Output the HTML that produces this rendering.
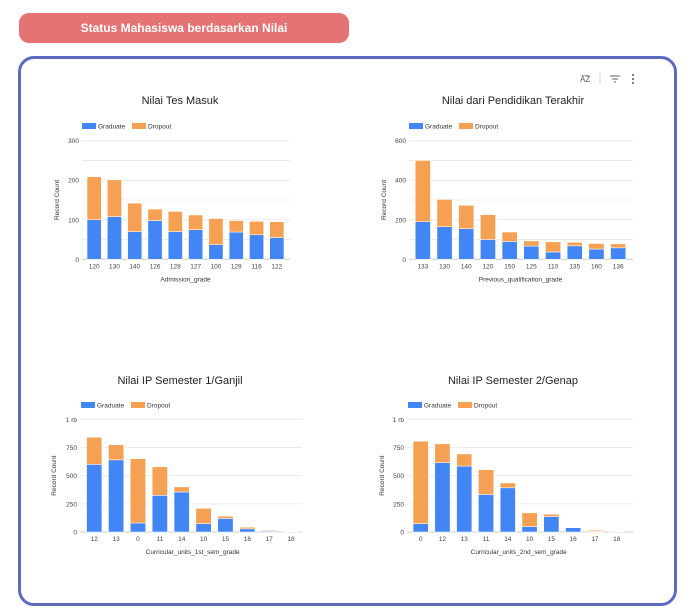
<!DOCTYPE html>
<html><head><meta charset="utf-8">
<style>
body{margin:0;width:697px;height:614px;background:#fff;font-family:"Liberation Sans",sans-serif;overflow:hidden;position:relative}
#hdr{position:absolute;left:19px;top:13px;width:330px;height:30px;background:#e57373;border-radius:10px;color:#fff;font-weight:bold;font-size:12px;text-align:center;line-height:30px}
#box{position:absolute;left:18px;top:56px;width:653px;height:544px;border:3px solid #5c6bc0;border-radius:16px}
svg{position:absolute;left:0;top:0}
</style></head><body>
<div id="hdr">Status Mahasiswa berdasarkan Nilai</div>
<div id="box"></div>
<svg id="s" width="697" height="614">
<g font-size="8" fill="#555">
<text x="580" y="82">A͞Z</text>
<line x1="600" y1="73" x2="600" y2="84" stroke="#ccc"/>
<g stroke="#666" stroke-width="1"><line x1="610" y1="76" x2="620" y2="76"/><line x1="612" y1="79" x2="618" y2="79"/><line x1="614" y1="82" x2="616" y2="82"/></g>
<g><circle cx="633" cy="75" r="1"/><circle cx="633" cy="79" r="1"/><circle cx="633" cy="83" r="1"/></g>
</g>
</svg>
<script>
const c1Categories=["120","130","140","126","128","127","100","129","116","122"];
const c1Graduate=[100,108,70,98,70,75,37,69,62,55];
const c1Dropout=[109,93,72,29,51,37,66,29,34,40];
const c1Ticks=[0,100,200,300];
const c2Categories=["133","130","140","120","150","125","110","135","160","136"];
const c2Graduate=[190,165,155,100,90,67,37,68,52,58];
const c2Dropout=[310,138,118,126,48,26,51,18,28,20];
const c2Ticks=[0,200,400,600];
const c3Categories=["12","13","0","11","14","10","15","16","17","18"];
const c3Graduate=[600,640,80,325,355,75,120,28,8,2];
const c3Dropout=[240,135,570,253,45,135,20,14,7,3];
const c34Ticks=[0,250,500,750,1000];
const c34TickLabels=["0","250","500","750","1 rb"];
const c4Categories=["0","12","13","11","14","10","15","16","17","18"];
const c4Graduate=[75,615,585,333,392,48,137,38,5,2];
const c4Dropout=[730,167,107,220,43,122,21,2,10,3];

const NS="http://www.w3.org/2000/svg";
const svg=document.getElementById('s');
function el(t,a,p){const e=document.createElementNS(NS,t);for(const k in a)e.setAttribute(k,a[k]);(p||svg).appendChild(e);return e;}
function chart(o){
  const g=el('g',{});
  
  
  const yS=v=>o.y0-(v/o.max)*(o.y0-o.yTop);
  const step=(o.xEnd-o.xStart)/o.cats.length;
  const xS=i=>o.xStart+step*(i+0.5);
  const t=el('text',{x:o.cx,y:o.titleY,'text-anchor':'middle','font-size':'11',fill:'#222'},g);t.textContent=o.title;
  
  const lg=el('g',{},g);
  
  el('rect',{x:o.lx,y:o.ly-3,width:14,height:6,fill:'#4285f4'},lg);
  let lt=el('text',{x:o.lx+16,y:o.ly+2.5,'font-size':'6.5',fill:'#333'},lg);lt.textContent='Graduate';
  el('rect',{x:o.lx+50,y:o.ly-3,width:14,height:6,fill:'#f5a052'},lg);
  lt=el('text',{x:o.lx+66,y:o.ly+2.5,'font-size':'6.5',fill:'#333'},lg);lt.textContent='Dropout';
  for(let v=0;v<=o.max;v+=o.minor){el('line',{x1:o.gx1,x2:o.gx2,y1:yS(v),y2:yS(v),stroke:v==0?'#ccc':'#ececec','stroke-width':1},g);}
  o.ticks.forEach((v,i)=>{const tt=el('text',{x:o.gx1-3,y:yS(v)+2.5,'text-anchor':'end','font-size':'6.5',fill:'#444'},g);tt.textContent=o.tickLabels?o.tickLabels[i]:v;
    });
  o.cats.forEach((c,i)=>{
    const bw=step*0.7,x=xS(i)-bw/2;
    const gv=o.grad[i],dv=o.drop[i];
    const b=el('rect',{x:x,y:yS(gv),width:bw,height:yS(0)-yS(gv),fill:'#4285f4',stroke:'#fff','stroke-width':0.5},g);
    
    const d=el('rect',{x:x,y:yS(gv+dv),width:bw,height:yS(gv)-yS(gv+dv),fill:'#f5a052',stroke:'#fff','stroke-width':0.5},g);
    
    const xl=el('text',{x:xS(i),y:o.y0+9,'text-anchor':'middle','font-size':'6.5',fill:'#444'},g);xl.textContent=c;
    
  });
  const xt=el('text',{x:(o.xStart+o.xEnd)/2,y:o.y0+22,'text-anchor':'middle','font-size':'6.5',fill:'#333'},g);xt.textContent=o.xTitle;
  
  const yt=el('text',{x:0,y:0,'text-anchor':'middle','font-size':'6.5',fill:'#333',transform:`translate(${o.ytx},${(o.y0+o.yTop)/2}) rotate(-90)`},g);yt.textContent='Record Count';
  
}
chart({name:'chart-admission-grade',title:'Nilai Tes Masuk',cx:180,titleY:104,lx:82,ly:126,cats:c1Categories,grad:c1Graduate,drop:c1Dropout,ticks:c1Ticks,max:300,minor:50,y0:259.3,yTop:140.7,xStart:84,xEnd:287,gx1:82,gx2:290,ytx:59,xTitle:'Admission_grade'});
chart({name:'chart-previous-qualification',title:'Nilai dari Pendidikan Terakhir',cx:513,titleY:104,lx:409,ly:126,cats:c2Categories,grad:c2Graduate,drop:c2Dropout,ticks:c2Ticks,max:600,minor:100,y0:259.3,yTop:140.7,xStart:412,xEnd:629,gx1:409,gx2:633,ytx:386,xTitle:'Previous_qualification_grade'});
chart({name:'chart-sem1-grade',title:'Nilai IP Semester 1/Ganjil',cx:180,titleY:384,lx:81,ly:405,cats:c3Categories,grad:c3Graduate,drop:c3Dropout,ticks:c34Ticks,tickLabels:c34TickLabels,max:1000,minor:250,y0:532,yTop:419.3,xStart:83.3,xEnd:302,gx1:80,gx2:302,ytx:56,xTitle:'Curricular_units_1st_sem_grade'});
chart({name:'chart-sem2-grade',title:'Nilai IP Semester 2/Genap',cx:513,titleY:384,lx:408,ly:405,cats:c4Categories,grad:c4Graduate,drop:c4Dropout,ticks:c34Ticks,tickLabels:c34TickLabels,max:1000,minor:250,y0:532,yTop:419.3,xStart:409.8,xEnd:627.6,gx1:407,gx2:633,ytx:384,xTitle:'Curricular_units_2nd_sem_grade'});
</script>
</body></html>
